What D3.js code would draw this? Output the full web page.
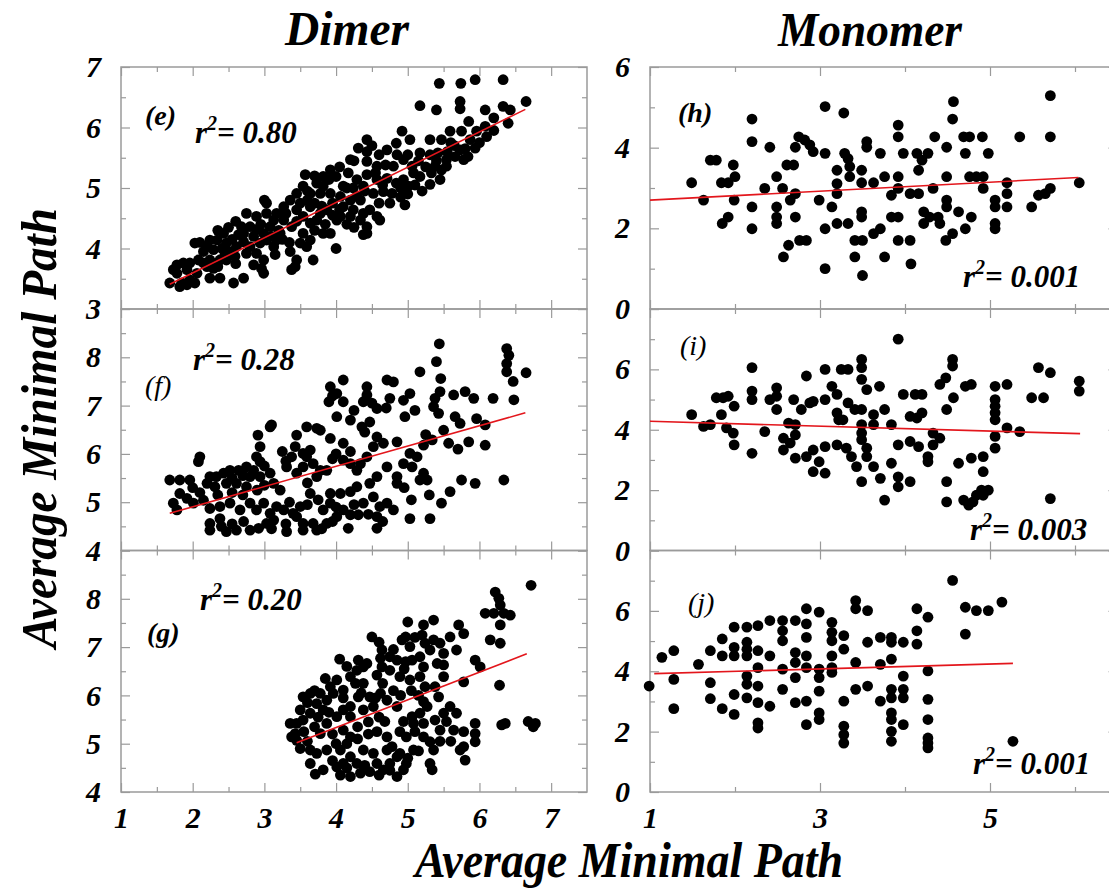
<!DOCTYPE html>
<html>
<head>
<meta charset="utf-8">
<script src="https://cdn.jsdelivr.net/npm/d3@7"></script>
<style>
  body { margin: 0; background: #fff; }
  svg { display: block; }
</style>
</head>
<body>
<svg id="chart" width="1109" height="888"></svg>
<script>
// ---- data: average minimal path pairs (x, y) per panel ----
const dimerE = [[5.44,6.73],[5.74,6.73],[5.94,6.79],[6.33,6.79],[6.65,6.43],[5.17,6.36],[5.40,6.29],[5.73,6.31],[5.73,6.43],[6.08,6.29],[6.33,6.35],[6.43,6.29],[6.20,6.16],[6.40,6.07],[6.08,6.02],
[4.92,5.94],[5.31,5.80],[5.47,5.80],[5.59,5.94],[5.75,5.94],[5.96,5.94],[5.87,5.80],[5.94,5.66],[5.73,5.63],[5.03,5.80],[4.84,5.74],[4.71,5.63],[4.43,5.80],[4.31,5.66],[4.43,5.60],[4.20,5.47],[4.43,5.44],[4.57,5.36],[4.69,5.38],[4.80,5.36],[4.94,5.47],[5.06,5.36],[5.17,5.58],[5.31,5.55],[5.42,5.58],[5.54,5.47],[5.66,5.52],[5.78,5.47],[5.84,5.52],[5.33,5.25],[5.38,5.36],[5.47,5.30],[5.54,5.36],[5.31,5.06],[5.45,5.14],[5.17,5.19],[5.08,5.25],[4.94,5.14],[5.01,5.03],[4.84,5.08],[4.71,5.16],[4.57,5.14],[4.43,5.22],[4.29,5.14],[4.17,5.25],[4.10,5.03],[4.24,5.00],[4.38,5.03],[4.52,4.91],[4.66,4.94],[4.78,4.91],[4.90,5.00],[4.96,4.72],[3.92,5.30],[3.82,5.19],[3.90,5.14],[4.00,5.19],[3.73,5.08],[3.57,5.22],[3.54,5.03],[3.45,4.91],[3.64,4.91],[3.78,4.91],[3.92,4.91],[4.06,4.86],[4.20,4.80],[4.34,4.80],[4.10,4.69],[4.24,4.64],[4.38,4.58],[4.47,4.64],[4.57,4.53],[4.06,4.53],[4.20,4.53],[4.34,4.47],[4.43,4.36],[4.38,4.23],[4.61,4.47],[3.87,4.64],[3.78,4.58],[3.64,4.69],[3.50,4.75],[3.45,4.64],[3.36,4.80],[3.27,4.69],[3.17,4.58],[3.03,4.75],[3.00,4.80],[2.75,4.58],[2.89,4.53],[3.03,4.58],[3.13,4.47],[3.27,4.47],[3.38,4.36],[3.54,4.53],[3.64,4.42],[3.73,4.47],[3.82,4.25],[3.92,4.25],[3.54,4.25],[3.64,4.14],[3.50,4.09],[3.59,4.03],[3.68,3.81],[3.45,3.81],[3.36,3.95],[3.43,3.70],[3.38,3.65],[4.00,4.00],[4.43,4.25],
[2.80,4.36],[2.89,4.31],[2.99,4.25],[3.08,4.36],[3.22,4.25],[2.85,4.20],[2.94,4.09],[3.03,4.14],[3.13,4.03],[3.17,4.14],[2.80,4.03],[2.89,3.92],[2.99,3.81],[2.85,3.73],[2.99,3.59],[2.96,3.67],[2.75,3.92],[2.71,4.11],[2.64,4.23],[2.68,4.36],[2.61,4.03],[2.47,4.09],[2.43,4.25],[2.34,4.14],[2.24,4.14],[2.20,4.03],[2.29,3.98],[2.41,4.00],[2.52,3.95],[2.59,3.87],[2.47,3.81],[2.38,3.81],[2.24,3.81],[2.15,3.76],[2.03,4.09],[2.08,3.81],[1.96,3.76],[1.87,3.76],[1.78,3.73],[1.73,3.65],[1.78,3.59],[1.92,3.65],[2.06,3.59],[2.20,3.70],[2.29,3.67],[1.96,3.48],[1.85,3.43],[1.68,3.43],[1.82,3.37],[1.92,3.40],[2.03,3.43],[2.24,3.51],[2.38,3.51],[2.57,3.43],[2.71,3.51],[2.71,4.25],[4.01,4.47],[4.29,4.86],[3.82,5.03],
[3.60,4.80],[3.70,4.75],[3.80,4.70],[3.95,4.75],[4.05,4.65],[3.95,4.55],[4.15,4.40],[4.25,4.35],[3.85,4.40],[3.70,4.30],[3.45,4.45],[3.30,4.58],[3.20,4.30],[3.10,4.20],[2.95,4.40],[2.55,4.15],[2.60,3.75],[2.35,3.70],[2.15,3.95],[2.10,4.10],[2.45,3.90],[4.60,4.75],[4.75,4.75],[4.90,4.85],[5.00,4.90],[5.10,5.05],[5.20,4.95],[5.25,5.35],[5.15,5.45],[5.00,5.55],[4.85,5.55],[4.60,5.55],[4.55,5.25],[4.65,5.05],[5.40,5.45],[5.55,5.60],[5.65,5.70],[5.80,5.65],[6.00,5.75],[6.10,5.85],[6.20,5.95],[5.85,6.10],[5.60,5.75],[4.50,5.70],[4.25,5.45],[4.05,5.35],[3.70,5.20],[3.60,4.95],[4.15,5.00],[4.40,4.95],[3.25,4.15],[3.35,4.10],[3.15,3.90],[2.60,4.45],[2.50,4.35],[2.35,4.30]];

const dimerF = [[5.44,8.28],[5.40,7.91],[5.17,7.70],[5.46,7.56],[6.38,8.18],[6.41,8.04],[6.38,7.87],[6.38,7.70],[6.65,7.68],[6.47,7.50],[6.48,7.12],[6.19,7.15],[5.92,7.15],[5.80,7.29],[5.64,7.22],[5.45,7.29],[5.38,7.15],[5.36,6.98],[5.43,6.84],[5.66,6.77],[5.73,6.63],[5.96,6.73],[6.08,6.60],[5.50,6.49],[5.34,6.29],[5.57,6.22],[5.85,6.25],[6.08,6.18],[5.22,6.18],[5.03,7.25],[4.94,7.11],[4.96,6.77],[4.80,7.49],[4.71,7.53],[4.75,7.15],[4.43,7.39],[4.43,7.22],[4.38,7.08],[4.57,6.94],[4.47,6.66],[4.36,6.56],[4.20,6.70],[4.10,7.08],[4.10,7.53],[3.92,7.39],[3.90,7.08],[4.01,7.25],[4.01,6.77],[4.57,6.35],[4.52,6.15],[4.66,6.22],[4.85,6.25],[5.03,6.01],[4.94,5.80],[5.06,5.73],[5.13,5.94],[5.22,5.60],[5.17,5.46],[5.27,5.46],[4.85,5.53],[4.85,5.39],[4.71,5.73],[4.57,5.53],[4.47,5.39],[4.29,5.66],[4.43,5.94],[4.34,5.80],[4.20,5.80],[4.10,6.22],[3.92,6.32],[3.78,6.49],[3.73,6.53],[3.59,6.56],[3.45,6.39],[3.43,6.15],[3.38,5.94],[3.31,5.73],[3.45,5.60],[3.54,5.73],[3.59,5.94],[3.64,6.08],[3.54,6.01],[3.68,5.80],[3.78,5.66],[3.73,5.53],[3.87,5.66],[4.10,5.87],[3.08,6.56],[3.10,6.60],[2.91,6.39],[2.94,6.15],[2.89,5.94],[2.94,5.84],[2.85,5.66],[2.75,5.73],[2.80,5.53],[2.94,5.53],[3.08,5.60],[3.13,5.39],[3.22,5.25],[2.64,5.66],[2.52,5.66],[2.43,5.60],[2.33,5.53],[2.24,5.53],[2.10,5.94],[2.08,5.84],[2.20,5.39],[2.31,5.32],[2.47,5.39],[2.61,5.39],[2.75,5.32],[1.96,5.46],[1.82,5.46],[1.68,5.46],[1.82,5.18],[1.73,4.98],[1.78,4.84],[1.92,5.08],[2.01,4.98],[2.15,5.04],[2.24,4.87],[2.38,4.91],[2.52,4.98],[2.66,4.84],[2.80,4.98],[2.89,4.84],[2.99,4.98],[3.08,4.77],[3.17,4.91],[3.27,4.84],[2.24,4.56],[2.24,4.42],[2.38,4.66],[2.47,4.39],[2.61,4.42],[2.71,4.60],[2.80,4.42],[2.92,4.46],[3.03,4.56],[3.13,4.63],[3.31,4.39],[3.40,4.77],[3.50,4.91],[3.54,4.56],[3.54,4.42],[3.64,5.18],[3.68,4.56],[3.73,4.42],[3.82,4.84],[3.92,4.98],[3.92,5.18],[4.06,5.18],[4.20,5.22],[4.29,5.32],[4.01,4.70],[4.10,4.84],[4.20,4.74],[4.17,4.46],[4.31,4.74],[4.38,4.98],[4.52,5.11],[4.57,4.70],[4.57,4.46],[4.61,4.91],[4.71,4.98],[4.80,4.84],[5.03,4.66],[5.31,4.66],[5.47,4.98],[5.59,5.22],[5.75,5.46],[5.94,5.39],[6.34,5.46],[3.87,4.56],[3.45,4.70],
[2.10,5.20],[2.00,5.30],[2.35,5.15],[2.55,5.20],[2.70,5.15],[2.90,5.25],[3.00,5.35],[3.35,5.00],[3.60,4.95],[3.75,5.05],[4.00,4.90],[4.25,4.95],[4.45,4.75],[4.65,4.60],[3.95,4.60],[3.80,4.45],[3.30,4.55],[3.10,4.45],[2.55,4.55],[2.40,4.50],[3.60,5.40],[3.95,5.90],[4.00,6.00],[4.20,6.05],[4.40,6.45],[4.25,6.90],[3.95,7.20],[4.50,7.05],[4.70,6.95],[5.10,6.90],[5.25,6.40],[5.70,6.10],[5.30,5.15],[5.05,5.05],[4.95,5.30],[3.25,6.05],[3.30,5.85],[3.00,5.75],[2.55,5.50],[2.70,5.55]];

const dimerG = [[6.72,8.28],[6.22,8.14],[6.27,8.01],[6.29,7.87],[6.08,7.70],[6.20,7.70],[6.34,7.70],[6.43,7.66],[6.29,7.46],[6.15,7.15],[6.29,7.08],[6.28,6.21],[6.31,5.39],[6.36,5.42],[6.68,5.46],[6.78,5.42],[6.75,5.35],[5.78,6.28],[5.94,6.73],[6.01,6.59],[5.71,7.46],[5.78,7.28],[5.68,6.94],[5.59,7.21],[5.36,7.56],[5.22,7.46],[5.20,7.25],[5.24,7.08],[5.36,7.15],[5.45,7.08],[5.50,6.87],[5.41,6.66],[5.50,6.63],[5.31,6.94],[5.00,7.52],[4.97,7.21],[4.92,7.15],[5.03,7.01],[5.06,6.73],[4.97,6.70],[4.85,6.73],[4.75,6.80],[4.50,7.21],[4.62,6.77],[4.64,6.59],[4.57,6.42],[4.75,6.52],[4.89,6.39],[5.03,6.32],[5.17,6.39],[5.22,6.59],[5.24,6.18],[5.38,6.18],[5.43,5.97],[5.59,5.77],[5.50,5.63],[5.38,5.49],[5.27,5.77],[5.17,5.63],[5.08,5.42],[5.22,5.87],[5.06,5.56],[4.94,5.46],[4.89,5.25],[4.98,5.14],[5.08,4.87],[4.98,4.59],[4.89,4.80],[4.78,4.94],[4.71,5.14],[4.57,5.25],[4.68,5.46],[4.85,5.77],[4.71,5.90],[4.62,6.04],[4.47,5.97],[4.38,6.25],[4.29,6.52],[4.27,6.25],[4.31,5.97],[4.20,6.39],[4.38,6.59],[4.10,6.11],[4.01,6.32],[3.96,6.04],[3.87,5.90],[3.82,5.70],[3.73,5.83],[3.64,6.04],[3.64,5.63],[3.54,5.49],[3.45,5.42],[3.43,5.21],[3.50,5.70],[3.45,5.07],[3.50,4.90],[3.64,4.87],[3.73,4.80],[3.87,4.87],[3.78,5.21],[3.87,5.42],[4.01,5.56],[4.10,5.70],[4.20,5.77],[4.20,5.56],[4.38,5.70],[4.52,5.77],[4.20,5.14],[4.10,5.28],[4.06,4.87],[4.20,4.73],[4.38,4.87],[4.52,4.80],[4.57,4.59],[4.47,4.42],[4.34,4.39],[4.20,4.32],[4.06,4.35],[4.01,4.52],[4.29,4.59],[4.66,4.46],[4.75,4.59],[4.85,4.73],[3.71,4.37],[4.71,4.87],[5.22,5.14],[5.22,5.42],[5.31,5.04],[5.36,4.87],[5.31,4.59],[5.34,4.46],[5.45,5.28],[5.54,5.46],[5.64,5.28],[5.78,5.25],[5.78,4.94],[5.73,4.87],[5.80,4.66],[5.94,5.42],[5.94,5.21],[5.94,5.04],[5.68,5.63],[3.54,5.97],[3.78,6.04],[3.92,6.18],[4.31,6.73],[4.43,6.66],[4.64,6.94],[5.17,6.80],[5.50,6.39],[3.64,4.59],[3.82,4.46],[4.10,4.59],[4.85,4.32],[4.94,4.46],[3.36,5.42],[3.38,5.14],
[3.55,5.25],[3.60,5.05],[3.70,5.35],[3.75,5.55],[3.90,5.65],[3.95,5.20],[4.00,5.00],[4.15,5.00],[4.30,5.10],[4.45,5.20],[4.30,5.35],[4.45,5.45],[4.60,5.55],[4.55,5.95],[4.65,6.25],[4.80,6.10],[4.90,6.00],[5.05,6.10],[5.15,6.00],[4.95,6.55],[4.80,6.95],[4.60,7.10],[5.10,7.20],[4.15,6.60],[4.05,6.75],[3.85,6.35],[3.70,6.10],[3.60,5.85],[3.95,4.65],[4.15,4.50],[4.40,4.55],[4.60,4.35],[4.75,4.45],[5.00,4.70],[5.15,4.85],[5.45,5.05],[5.60,5.05],[5.10,5.25],[4.35,6.05],[4.10,5.95]];

const monoH = [[1.49,3.13],[1.63,2.70],[1.71,3.69],[1.78,3.69],[1.84,3.13],[1.85,2.12],[1.92,2.28],[1.92,3.13],[1.98,3.57],[2.00,3.28],[1.99,2.70],[2.20,4.71],[2.20,4.15],[2.20,2.53],[2.20,1.99],[2.35,2.99],[2.41,4.01],[2.49,3.28],[2.49,2.53],[2.49,2.28],[2.49,2.12],[2.56,2.99],[2.57,1.29],[2.63,1.58],[2.61,3.57],[2.69,3.57],[2.71,4.01],[2.71,2.86],[2.65,2.70],[2.71,2.28],[2.76,1.70],[2.84,1.70],[2.75,4.27],[2.82,4.19],[2.88,4.07],[2.92,3.90],[2.99,2.70],[3.06,5.02],[3.06,3.86],[3.06,1.99],[3.06,1.00],[3.14,2.53],[3.20,3.44],[3.20,3.11],[3.20,2.86],[3.20,2.12],[3.28,4.86],[3.29,3.86],[3.33,3.73],[3.35,3.53],[3.35,3.28],[3.33,2.12],[3.41,1.29],[3.41,1.70],[3.50,1.70],[3.50,0.83],[3.49,3.44],[3.49,3.13],[3.49,2.41],[3.49,2.28],[3.55,4.15],[3.55,4.01],[3.63,3.13],[3.63,1.87],[3.71,3.86],[3.71,1.99],[3.76,3.28],[3.76,1.29],[3.84,2.82],[3.84,2.28],[3.92,4.56],[3.92,4.27],[3.92,3.28],[3.92,2.99],[3.92,2.28],[3.92,1.70],[3.98,3.86],[4.06,2.86],[4.06,1.70],[4.07,1.12],[4.14,3.86],[4.16,3.44],[4.16,2.86],[4.20,3.69],[4.22,2.41],[4.22,2.12],[4.27,3.86],[4.29,2.28],[4.33,2.99],[4.35,4.27],[4.39,2.28],[4.41,2.12],[4.49,4.01],[4.49,3.28],[4.49,2.70],[4.49,2.53],[4.48,1.70],[4.56,4.71],[4.57,5.14],[4.56,1.87],[4.63,2.41],[4.69,4.27],[4.71,3.86],[4.71,1.99],[4.76,4.27],[4.76,3.28],[4.78,2.28],[4.84,3.28],[4.91,4.27],[4.92,3.28],[4.92,2.99],[4.98,3.86],[5.06,2.70],[5.06,2.53],[5.06,2.12],[5.06,1.99],[5.20,3.13],[5.20,2.86],[5.20,2.53],[5.35,4.27],[5.49,2.53],[5.57,2.82],[5.65,2.86],[5.71,2.99],[5.71,4.27],[5.71,5.29],[6.05,3.13]];

const monoI = [[1.49,4.50],[1.63,4.11],[1.71,4.17],[1.78,5.06],[1.86,5.06],[1.92,5.11],[1.84,4.50],[1.90,4.06],[1.98,3.89],[1.99,3.50],[1.99,4.78],[2.20,6.06],[2.20,5.28],[2.20,5.00],[2.20,3.22],[2.35,3.94],[2.41,5.00],[2.49,5.39],[2.49,5.11],[2.49,4.67],[2.57,3.33],[2.57,3.72],[2.63,4.22],[2.65,3.56],[2.69,5.00],[2.71,4.17],[2.71,3.83],[2.71,3.06],[2.78,4.67],[2.84,5.78],[2.84,3.11],[2.88,4.89],[2.92,4.94],[2.92,3.33],[2.92,2.61],[2.99,2.94],[3.06,6.00],[3.06,5.00],[3.06,3.44],[3.06,2.56],[3.14,5.44],[3.20,5.17],[3.20,4.56],[3.20,3.50],[3.22,4.33],[3.27,4.33],[3.25,6.00],[3.33,6.00],[3.31,3.39],[3.33,4.89],[3.37,3.11],[3.41,4.67],[3.43,2.78],[3.49,6.33],[3.49,6.06],[3.49,5.67],[3.49,4.67],[3.49,4.17],[3.49,3.89],[3.49,3.67],[3.49,2.28],[3.55,5.33],[3.55,3.39],[3.55,3.11],[3.63,4.50],[3.63,4.17],[3.63,2.78],[3.70,5.44],[3.71,2.39],[3.76,4.67],[3.76,1.67],[3.84,4.17],[3.84,2.89],[3.92,7.00],[3.92,3.50],[3.92,2.44],[3.92,2.11],[3.98,5.17],[4.06,4.44],[4.06,3.61],[4.06,2.28],[4.12,5.17],[4.14,4.39],[4.16,3.44],[4.20,5.17],[4.20,4.56],[4.27,3.11],[4.27,2.94],[4.33,3.89],[4.33,3.50],[4.41,3.72],[4.41,5.50],[4.48,5.72],[4.49,4.67],[4.49,2.28],[4.49,1.61],[4.56,6.33],[4.56,6.11],[4.57,5.06],[4.63,2.89],[4.71,5.44],[4.78,5.50],[4.78,3.06],[4.69,1.67],[4.75,1.50],[4.80,1.61],[4.84,1.83],[4.90,2.00],[4.92,3.11],[4.92,2.61],[4.92,1.83],[4.98,2.00],[5.06,5.44],[5.06,5.00],[5.06,4.78],[5.06,4.56],[5.06,4.33],[5.06,3.78],[5.06,3.39],[5.20,5.50],[5.20,4.06],[5.35,3.94],[5.49,5.06],[5.57,6.06],[5.63,5.06],[5.71,5.89],[5.71,1.72],[6.05,5.61],[6.05,5.28]];

const monoJ = [[0.99,3.51],[1.14,4.46],[1.28,4.68],[1.28,3.73],[1.28,2.76],[1.57,4.23],[1.71,4.68],[1.71,3.62],[1.71,3.09],[1.85,5.07],[1.85,4.51],[1.85,2.76],[1.99,5.46],[1.99,4.79],[1.99,4.51],[1.99,3.23],[1.99,2.57],[2.14,5.46],[2.14,4.96],[2.14,4.73],[2.14,4.51],[2.14,3.84],[2.14,3.57],[2.14,3.12],[2.27,5.51],[2.27,4.68],[2.27,4.12],[2.27,3.51],[2.27,2.96],[2.27,2.29],[2.27,2.12],[2.41,5.68],[2.41,4.51],[2.41,2.84],[2.56,5.68],[2.56,5.34],[2.56,5.01],[2.56,4.07],[2.56,3.40],[2.71,5.68],[2.71,4.62],[2.71,4.29],[2.71,3.79],[2.71,2.96],[2.84,6.07],[2.84,5.57],[2.84,5.12],[2.84,4.51],[2.84,4.12],[2.84,3.01],[2.84,2.23],[2.99,5.96],[2.99,4.07],[2.99,3.79],[2.99,3.34],[2.99,2.62],[2.99,2.40],[3.14,5.62],[3.14,5.29],[3.14,5.01],[3.14,4.51],[3.14,4.12],[3.14,3.96],[3.28,5.18],[3.28,4.73],[3.28,3.01],[3.28,2.18],[3.28,1.90],[3.28,1.62],[3.42,6.34],[3.42,6.07],[3.42,4.29],[3.42,3.40],[3.56,6.01],[3.56,4.96],[3.56,3.51],[3.71,5.12],[3.71,4.23],[3.71,3.01],[3.84,5.12],[3.84,4.96],[3.84,4.40],[3.84,3.40],[3.84,3.12],[3.84,2.62],[3.84,2.40],[3.84,2.01],[3.84,1.68],[3.98,4.96],[3.98,3.84],[3.98,3.40],[3.98,3.12],[3.98,2.23],[4.14,6.07],[4.14,5.34],[4.14,4.90],[4.27,5.79],[4.27,4.01],[4.27,3.07],[4.27,2.40],[4.27,1.79],[4.27,1.62],[4.27,1.46],[4.56,7.01],[4.71,6.12],[4.71,5.23],[4.84,6.01],[4.98,6.01],[5.14,6.29],[5.27,1.68]];

// least-squares fit lines, end points in data units
const fitE = [[1.68,3.41],[6.64,6.30]];
const fitF = [[1.68,4.77],[6.64,6.85]];
const fitG = [[3.45,5.02],[6.66,6.86]];
const fitH = [[1.00,2.70],[6.04,3.26]];
const fitI = [[1.00,4.28],[6.06,3.87]];
const fitJ = [[1.05,3.92],[5.27,4.26]];

const panelTags = ["(e)", "(f)", "(g)", "(h)", "(i)", "(j)"];
const rSquared = ["0.80", "0.28", "0.20", "0.001", "0.003", "0.001"];
const columnTitles = ["Dimer", "Monomer"];
const axisTitle = "Average Minimal Path";

// axis ranges and ticks
const dimerXDomain = [1, 7.5], dimerXMajor = [1,2,3,4,5,6,7], dimerXMinor = [1.5,2.5,3.5,4.5,5.5,6.5];
const monoXDomain = [1, 6.5], monoXMajor = [1,3,5], monoXMinor = [2,4,6];
const dimerYDomains = [[3,7],[4,9],[4,9]];
const dimerYLabels = [[3,4,5,6,7],[4,5,6,7,8],[4,5,6,7,8]];
const monoYDomains = [[0,6],[0,8],[0,8]];
const monoYLabels = [[0,2,4,6],[0,2,4,6],[0,2,4,6]];

// ---- pick an installed Times-like face (bold italic) ----
function pickSerif(candidates) {
  const ctx = document.createElement("canvas").getContext("2d");
  const sample = "Average Minimal Path 0.123456789 Dimer";
  for (const name of candidates) {
    for (const base of ["monospace", "sans-serif"]) {
      ctx.font = `italic bold 40px ${base}`;
      const w0 = ctx.measureText(sample).width;
      ctx.font = `italic bold 40px "${name}", ${base}`;
      const w1 = ctx.measureText(sample).width;
      if (Math.abs(w1 - w0) > 0.5) return `"${name}", serif`;
    }
  }
  return "serif";
}
const FONT = pickSerif(["Liberation Serif", "Times New Roman", "Tinos", "Nimbus Roman", "DejaVu Serif", "Noto Serif"]);

// ---- layout ----
const svg = d3.select("#chart")
  .style("font-family", FONT).style("font-style", "italic").style("font-weight", "bold");
const colX = [[121, 587], [650, 1117.5]];
const rowY = [[67, 309], [309, 550.5], [550.5, 792]];
const frameColor = "#9a9a9a";

const panels = [
  {pts: dimerE, fit: fitE, col: 0, row: 0, tag: {x:145, y:125, w:"bold"}, r2: {x:195, y:143}},
  {pts: dimerF, fit: fitF, col: 0, row: 1, tag: {x:145, y:395, w:"normal"}, r2: {x:193, y:370}},
  {pts: dimerG, fit: fitG, col: 0, row: 2, tag: {x:147, y:642, w:"bold"}, r2: {x:200, y:610}},
  {pts: monoH, fit: fitH, col: 1, row: 0, tag: {x:678, y:122, w:"bold"}, r2: {x:963, y:287}},
  {pts: monoI, fit: fitI, col: 1, row: 1, tag: {x:680, y:355, w:"normal"}, r2: {x:970, y:540}},
  {pts: monoJ, fit: fitJ, col: 1, row: 2, tag: {x:688, y:612, w:"normal"}, r2: {x:973, y:774}}
];

function range(a, b, s) { const out = []; for (let v = a; v <= b + 1e-9; v += s) out.push(+v.toFixed(3)); return out; }

function styleAxis(g, labelled) {
  g.select(".domain").remove();
  g.attr("color", frameColor).attr("font-size", 30).attr("font-family", null);
  g.selectAll("line").attr("stroke-width", 1.2);
  g.selectAll("text").attr("fill", "#000");
  if (!labelled) g.selectAll("text").remove();
}

panels.forEach((p, i) => {
  const [x0, x1] = colX[p.col];
  const [y0, y1] = rowY[p.row];
  const isDimer = p.col === 0;
  const xDom = isDimer ? dimerXDomain : monoXDomain;
  const yDom = isDimer ? dimerYDomains[p.row] : monoYDomains[p.row];
  const yLab = isDimer ? dimerYLabels[p.row] : monoYLabels[p.row];
  const xMaj = isDimer ? dimerXMajor : monoXMajor;
  const xMin = isDimer ? dimerXMinor : monoXMinor;
  const yMaj = isDimer ? range(yDom[0], yDom[1], 1) : range(yDom[0], yDom[1], 2);
  const yMin = isDimer ? range(yDom[0] + 0.5, yDom[1] - 0.5, 1) : range(yDom[0] + 1, yDom[1] - 1, 2);

  const x = d3.scaleLinear().domain(xDom).range([x0, x1]);
  const y = d3.scaleLinear().domain(yDom).range([y1, y0]);
  const g = svg.append("g");

  // frame
  g.append("rect").attr("x", x0).attr("y", y0).attr("width", x1 - x0).attr("height", y1 - y0)
    .attr("fill", "none").attr("stroke", frameColor).attr("stroke-width", 1.5);

  const bottomRow = p.row === 2;
  // bottom ticks (pointing inward) with labels on the last row
  g.append("g").attr("transform", `translate(0,${y1})`)
    .call(d3.axisBottom(x).tickValues(xMaj).tickSize(-9).tickPadding(15).tickFormat(d3.format("d")))
    .call(a => styleAxis(a, bottomRow));
  g.append("g").attr("transform", `translate(0,${y1})`)
    .call(d3.axisBottom(x).tickValues(xMin).tickSize(-5).tickFormat(""))
    .call(a => styleAxis(a, false));
  // top ticks
  g.append("g").attr("transform", `translate(0,${y0})`)
    .call(d3.axisTop(x).tickValues(xMaj).tickSize(-9).tickFormat(""))
    .call(a => styleAxis(a, false));
  g.append("g").attr("transform", `translate(0,${y0})`)
    .call(d3.axisTop(x).tickValues(xMin).tickSize(-5).tickFormat(""))
    .call(a => styleAxis(a, false));
  // left ticks with labels
  g.append("g").attr("transform", `translate(${x0},0)`)
    .call(d3.axisLeft(y).tickValues(yMaj).tickSize(-9).tickPadding(20)
      .tickFormat(d => yLab.includes(d) ? d3.format("d")(d) : ""))
    .call(a => styleAxis(a, true));
  g.append("g").attr("transform", `translate(${x0},0)`)
    .call(d3.axisLeft(y).tickValues(yMin).tickSize(-5).tickFormat(""))
    .call(a => styleAxis(a, false));
  // right ticks
  g.append("g").attr("transform", `translate(${x1},0)`)
    .call(d3.axisRight(y).tickValues(yMaj).tickSize(-9).tickFormat(""))
    .call(a => styleAxis(a, false));
  g.append("g").attr("transform", `translate(${x1},0)`)
    .call(d3.axisRight(y).tickValues(yMin).tickSize(-5).tickFormat(""))
    .call(a => styleAxis(a, false));

  // points
  g.append("g").selectAll("circle").data(p.pts).join("circle")
    .attr("cx", d => x(d[0])).attr("cy", d => y(d[1])).attr("r", 5.4).attr("fill", "#000");

  // fit line
  g.append("path").datum(p.fit)
    .attr("d", d3.line().x(d => x(d[0])).y(d => y(d[1])))
    .attr("fill", "none").attr("stroke", "#e3161c").attr("stroke-width", 1.6);

  // panel tag
  g.append("text").attr("x", p.tag.x).attr("y", p.tag.y)
    .attr("font-size", 28).style("font-weight", p.tag.w).text(panelTags[i]);

  // r squared note
  const t = g.append("text").attr("x", p.r2.x).attr("y", p.r2.y).attr("font-size", 31);
  t.append("tspan").text("r");
  t.append("tspan").attr("font-size", 20).attr("dy", -13).text("2");
  t.append("tspan").attr("dy", 13).text("= " + rSquared[i]);
});

// column titles
svg.append("text").attr("x", 347).attr("y", 45).attr("text-anchor", "middle")
  .attr("font-size", 48).attr("textLength", 124).attr("lengthAdjust", "spacingAndGlyphs").text(columnTitles[0]);
svg.append("text").attr("x", 870).attr("y", 46).attr("text-anchor", "middle")
  .attr("font-size", 48).attr("textLength", 184).attr("lengthAdjust", "spacingAndGlyphs").text(columnTitles[1]);

// axis titles
svg.append("text").attr("x", 629).attr("y", 877).attr("text-anchor", "middle")
  .attr("font-size", 50).attr("textLength", 428).attr("lengthAdjust", "spacingAndGlyphs").text(axisTitle);
svg.append("text").attr("transform", "translate(56,428) rotate(-90)").attr("text-anchor", "middle")
  .attr("font-size", 50).attr("textLength", 440).attr("lengthAdjust", "spacingAndGlyphs").text(axisTitle);
</script>
</body>
</html>
